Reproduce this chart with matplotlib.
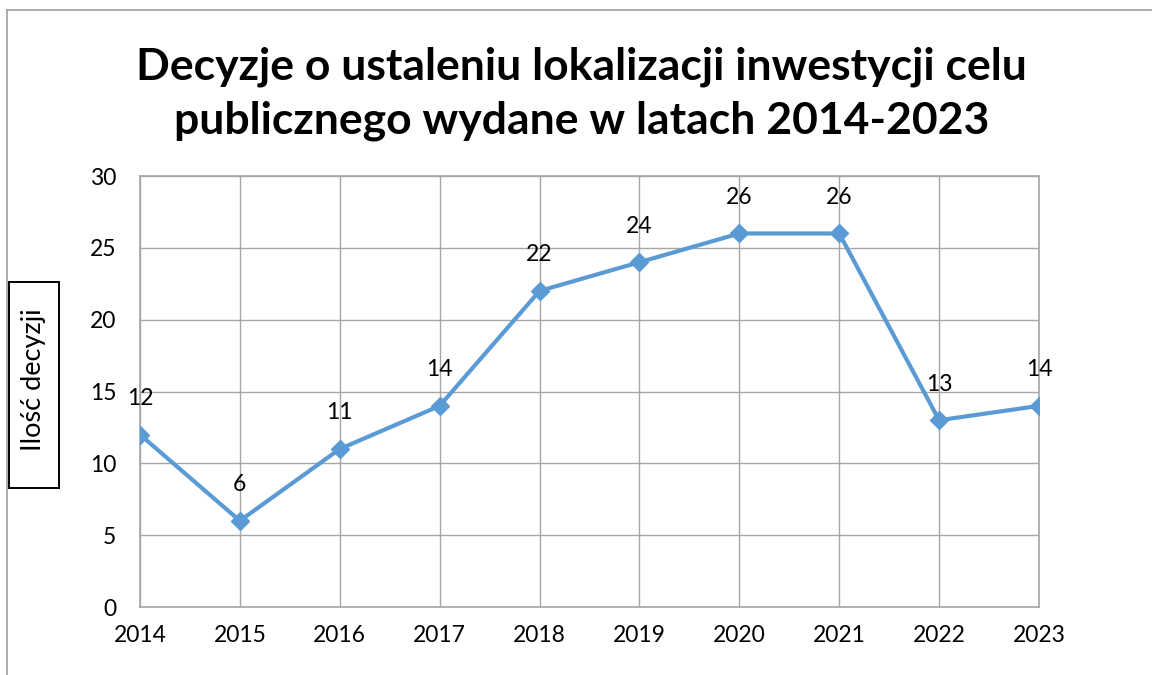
import matplotlib
matplotlib.use("Agg")
import matplotlib.pyplot as plt
from matplotlib.lines import Line2D
from matplotlib.patches import Rectangle

# data
years = ["2014", "2015", "2016", "2017", "2018", "2019", "2020", "2021", "2022", "2023"]
decisions = [12, 6, 11, 14, 22, 24, 26, 26, 13, 14]
y_ticks = [0, 5, 10, 15, 20, 25, 30]

title = "Decyzje o ustaleniu lokalizacji inwestycji celu\npublicznego wydane w latach 2014-2023"
y_label = "Ilość decyzji"

plt.rcParams['font.family'] = ['Lato', 'DejaVu Sans']

W, H = 1152, 675
fig = plt.figure(figsize=(W / 100, H / 100), dpi=100)
ax = fig.add_axes([140 / W, 1 - 607 / H, 899 / W, 431 / H])

x = list(range(len(years)))
ax.plot(x, decisions, color="#5B9BD5", lw=3, marker="D", markersize=9,
        markerfacecolor="#5B9BD5", markeredgecolor="#5B9BD5", zorder=3)

for xi, v in zip(x, decisions):
    ax.annotate(str(v), (xi, v), xytext=(0, 26), textcoords="offset points",
                ha="center", va="center", fontsize=16.5)

ax.set_xlim(0, len(years) - 1)
ax.set_ylim(0, 30)
ax.set_xticks(x)
ax.set_xticklabels(years)
ax.set_yticks(y_ticks)
ax.grid(True, color="#A6A6A6", lw=1)
ax.set_axisbelow(True)
for s in ax.spines.values():
    s.set_color("#A6A6A6")
    s.set_linewidth(1.2)
ax.tick_params(length=0, labelsize=16.5)
ax.tick_params(axis="x", pad=13)
ax.tick_params(axis="y", pad=17)

fig.text(0.505, 1 - 94 / H, title, ha="center", va="center", fontsize=32,
         fontweight="bold", linespacing=1.42)

# y label in a black frame
fig.add_artist(Rectangle((9 / W, 1 - 488 / H), 50 / W, 206 / H, transform=fig.transFigure,
                         facecolor="white", edgecolor="black", lw=1.4))
fig.text(34 / W, 1 - 380 / H, y_label, rotation=90, ha="center", va="center",
         fontsize=19.5)

# outer chart frame (only top and left edges visible)
fig.add_artist(Line2D([7 / W, 7 / W], [0, 1 - 10 / H], color="#A0A0A0", lw=1.2))
fig.add_artist(Line2D([7 / W, 1], [1 - 10 / H, 1 - 10 / H], color="#A0A0A0", lw=1.2))

fig.savefig("out.png", dpi=100)
